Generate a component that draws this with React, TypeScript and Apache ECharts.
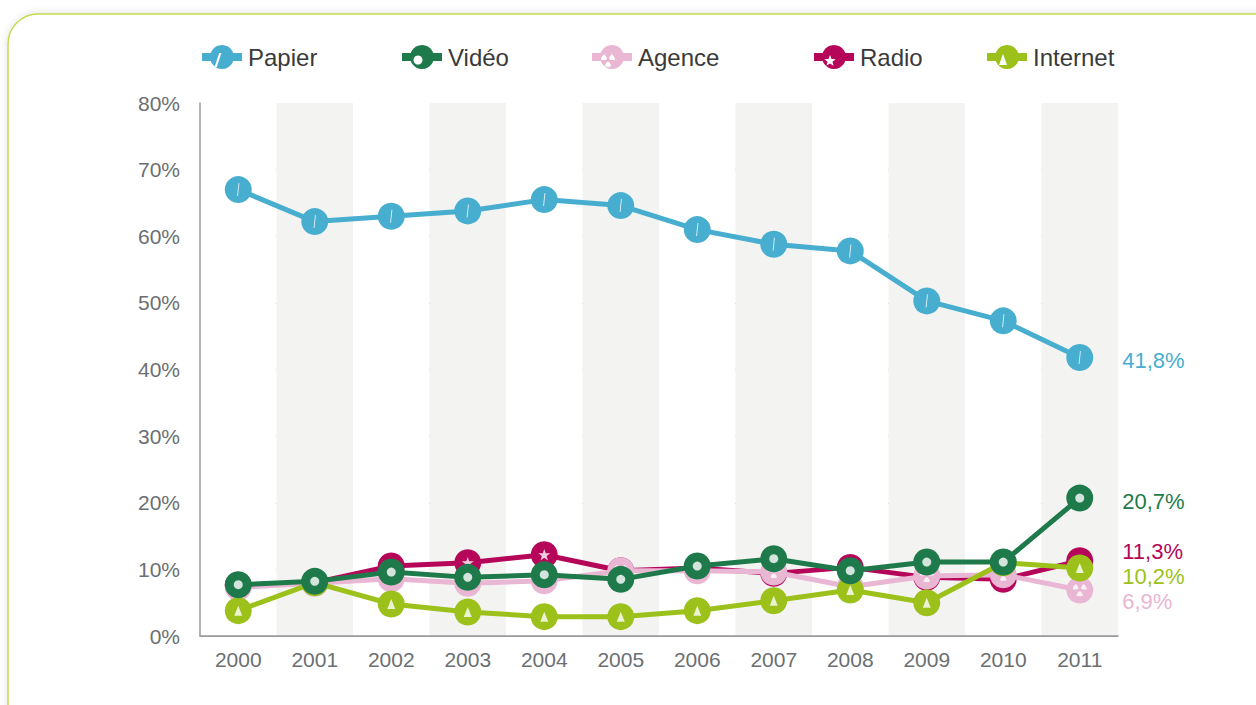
import React, { useEffect, useRef } from "react";
import * as echarts from "echarts";

const years = ["2000", "2001", "2002", "2003", "2004", "2005", "2006", "2007", "2008", "2009", "2010", "2011"];
const papier = [67.0, 62.2, 63.0, 63.8, 65.5, 64.6, 61.0, 58.8, 57.8, 50.3, 47.3, 41.8];
const video = [7.7, 8.2, 9.6, 8.8, 9.2, 8.5, 10.5, 11.6, 9.8, 11.1, 11.1, 20.7];
const agence = [7.3, 7.9, 8.6, 7.9, 8.3, 9.8, 9.8, 9.6, 7.4, 9.0, 9.2, 6.9];
const radio = [7.6, 8.0, 10.5, 11.0, 12.2, 9.8, 10.2, 9.4, 10.3, 8.8, 8.5, 11.3];
const internet = [3.8, 8.0, 4.8, 3.6, 2.9, 2.9, 3.8, 5.3, 6.9, 5.0, 11.0, 10.2];
const yTicks = ["0%", "10%", "20%", "30%", "40%", "50%", "60%", "70%", "80%"];
const legendNames = ["Papier", "Vidéo", "Agence", "Radio", "Internet"];

const COLORS = {
  papier: "#47aed0",
  video: "#1f7a4b",
  agence: "#e9b6d3",
  radio: "#b5065a",
  internet: "#9cc11a",
};

const FONT = "Liberation Sans, Arial, sans-serif";

const slash = "path://M3.2,0 L5.4,0 L2.2,12 L0,12 Z";
const star =
  "path://M10,0 L12.35,6.9 L19.5,6.9 L13.8,11.2 L15.9,18.1 L10,13.9 L4.1,18.1 L6.2,11.2 L0.5,6.9 L7.65,6.9 Z";
const trefoil =
  "path://M11.25,7.83 L14,3.07 A8,8 0 0 1 18,10 L12.5,10 A2.5,2.5 0 0 0 11.25,7.83 Z " +
  "M7.5,10 L2,10 A8,8 0 0 1 6,3.07 L8.75,7.83 A2.5,2.5 0 0 0 7.5,10 Z " +
  "M11.25,12.17 L14,16.93 A8,8 0 0 1 6,16.93 L8.75,12.17 A2.5,2.5 0 0 0 11.25,12.17 Z";

const fmt = (v: number) => String(v).replace(".", ",") + "%";

function lineSeries(name: string, vals: number[], color: string, z: number, dy: number) {
  return {
    name,
    type: "line",
    z,
    silent: true,
    data: vals.map((v, i) =>
      i === vals.length - 1
        ? {
            value: v,
            label: {
              show: true,
              position: "right",
              offset: [24, dy],
              formatter: fmt(v),
              color,
              fontSize: 22,
              lineHeight: 20,
              fontFamily: FONT,
            },
          }
        : v
    ),
    symbol: "circle",
    symbolSize: 27,
    showAllSymbol: true,
    lineStyle: { width: 5, color },
    itemStyle: { color },
    emphasis: { disabled: true },
  };
}

function glyphSeries(name: string, vals: number[], symbol: string, size: any, z: number) {
  return {
    name: name + "-glyph",
    type: "scatter",
    z,
    silent: true,
    data: vals,
    symbol,
    symbolSize: size,
    symbolKeepAspect: true,
    itemStyle: { color: "#ffffff" },
    emphasis: { disabled: true },
  };
}

// legend icon glyph decorations (white), drawn over the legend icons
function legendGlyphs(lefts: number[], top: number, iw: number, ih: number) {
  const cy = top + ih / 2;
  const c = lefts.map((l) => l + iw / 2);
  const W = "#ffffff";
  const starPts: number[][] = [];
  for (let k = 0; k < 10; k++) {
    const a = -Math.PI / 2 + (k * Math.PI) / 5;
    const r = k % 2 === 0 ? 6 : 2.6;
    starPts.push([c[3] + r * Math.cos(a), cy + 1 + r * Math.sin(a)]);
  }
  const sec = (ang: number) => ({
    type: "sector",
    z: 100,
    silent: true,
    shape: {
      cx: c[2],
      cy,
      r0: 2,
      r: 7,
      startAngle: ((ang - 30) * Math.PI) / 180,
      endAngle: ((ang + 30) * Math.PI) / 180,
    },
    style: { fill: W },
  });
  return [
    {
      type: "polygon",
      z: 100,
      silent: true,
      shape: {
        points: [
          [c[0] + 1.2, cy - 7],
          [c[0] + 3.4, cy - 7],
          [c[0] - 1.2, cy + 7],
          [c[0] - 3.4, cy + 7],
        ],
      },
      style: { fill: W },
    },
    { type: "circle", z: 100, silent: true, shape: { cx: c[1], cy, r: 4.5 }, style: { fill: W } },
    sec(-150),
    sec(-30),
    sec(90),
    { type: "polygon", z: 100, silent: true, shape: { points: starPts }, style: { fill: W } },
    {
      type: "polygon",
      z: 100,
      silent: true,
      shape: {
        points: [
          [c[4], cy - 6],
          [c[4] + 4, cy + 5],
          [c[4] - 4, cy + 5],
        ],
      },
      style: { fill: W },
    },
  ];
}

export default function App() {
  const ref = useRef<HTMLDivElement>(null);
  useEffect(() => {
    if (!ref.current) return;
    const chart = echarts.init(ref.current, undefined, { renderer: "svg" });
    const LT = 45;
    const IW = 40;
    const IH = 30;
    const lefts = [198, 398, 588, 810, 983];
    const legendAt = (name: string, left: number) => ({
      data: [name],
      left,
      top: LT,
      padding: 0,
      itemWidth: IW,
      itemHeight: IH,
      lineStyle: { width: 8 },
      textStyle: {
        fontSize: 24,
        color: "#3a3a3a",
        fontFamily: FONT,
        padding: [2, 0, 0, 1],
      },
      selectedMode: false,
    });
    chart.setOption({
      animation: false,
      backgroundColor: "#ffffff",
      graphic: [
        {
          type: "rect",
          z: -10,
          silent: true,
          shape: { x: 8, y: 14, width: 1320, height: 800, r: 30 },
          style: {
            fill: "#ffffff",
            stroke: "#c6da4c",
            lineWidth: 1.5,
            shadowBlur: 8,
            shadowColor: "rgba(0,0,0,0.12)",
          },
        },
        ...legendGlyphs(lefts, LT, IW, IH),
      ],
      legend: legendNames.map((n, i) => legendAt(n, lefts[i])),
      grid: { left: 200, right: 138, top: 103, bottom: 69 },
      xAxis: {
        type: "category",
        data: years,
        boundaryGap: true,
        axisLine: { show: true, lineStyle: { color: "#9a9a9a", width: 1.5 } },
        axisTick: { show: false },
        axisLabel: { color: "#6b6f72", fontSize: 21, margin: 13, fontFamily: FONT },
        splitLine: { show: false },
        splitArea: { show: true, areaStyle: { color: ["#ffffff", "#f3f3f1"] } },
      },
      yAxis: {
        type: "value",
        min: 0,
        max: 80,
        interval: 10,
        axisLine: { show: true, lineStyle: { color: "#9a9a9a", width: 1.5 } },
        axisTick: { show: false },
        axisLabel: {
          color: "#6b6f72",
          fontSize: 21,
          margin: 20,
          fontFamily: FONT,
          formatter: (v: number) => yTicks[Math.round(v / 10)],
        },
        splitLine: {
          show: true,
          lineStyle: {
            color: ["#9a9a9a", "#9a9a9a", "#9a9a9a", "#9a9a9a", "#9a9a9a", "#9a9a9a", "#9a9a9a", "#9a9a9a", "rgba(0,0,0,0)"],
            width: 1,
          },
        },
      },
      series: [
        lineSeries("Radio", radio, COLORS.radio, 2, -9),
        glyphSeries("Radio", radio, star, [12, 12], 3),
        lineSeries("Agence", agence, COLORS.agence, 4, 11),
        glyphSeries("Agence", agence, trefoil, [14, 13], 5),
        lineSeries("Internet", internet, COLORS.internet, 6, 8),
        glyphSeries("Internet", internet, "triangle", [8, 10], 7),
        lineSeries("Vidéo", video, COLORS.video, 8, 3),
        glyphSeries("Vidéo", video, "circle", 9, 9),
        lineSeries("Papier", papier, COLORS.papier, 10, 3),
        glyphSeries("Papier", papier, slash, [5, 13], 11),
      ],
    });
    return () => chart.dispose();
  }, []);
  return (
    <div
      ref={ref}
      style={{ position: "absolute", left: 0, top: 0, width: 1256, height: 705 }}
    />
  );
}
